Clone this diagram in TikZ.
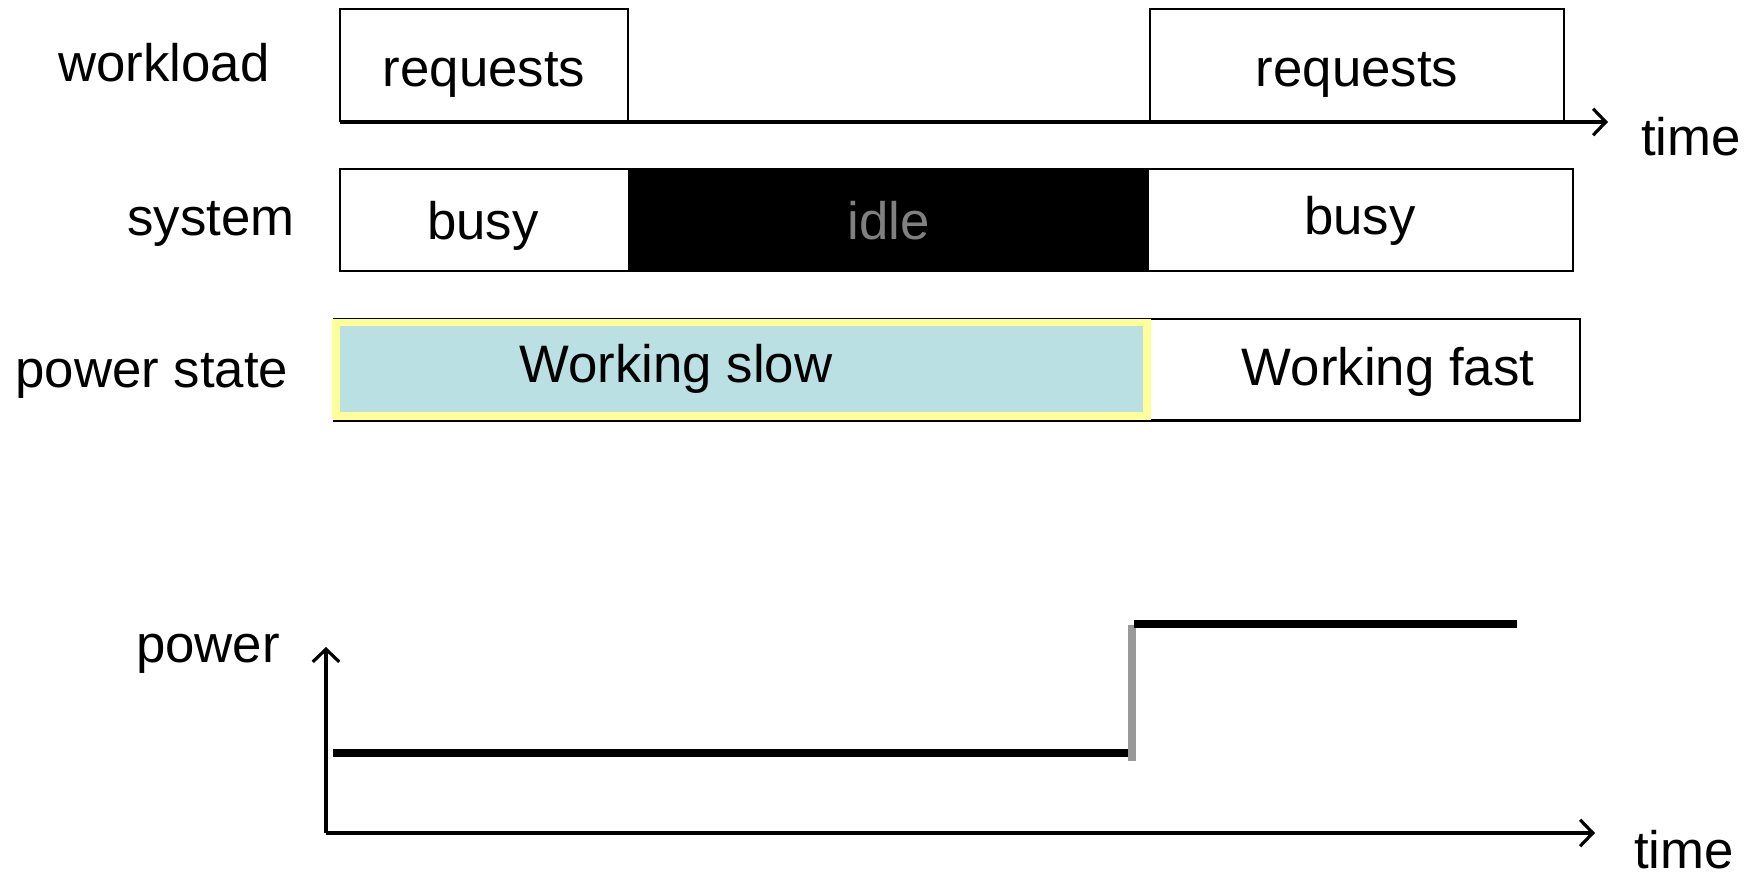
\documentclass[tikz,border=0pt]{standalone}
\usepackage{fontspec}
\setmainfont{Liberation Sans}
\usetikzlibrary{arrows.meta,fit}
\definecolor{slowfill}{HTML}{BBE0E3}
\definecolor{slowedge}{HTML}{FFFF99}
\definecolor{idletext}{HTML}{808080}
\definecolor{stepgray}{HTML}{999999}
\begin{document}
\begin{tikzpicture}[x=0.01cm,y=-0.01cm,
  txt/.style={font=\fontsize{15}{18}\selectfont,inner sep=0pt,anchor=base},
  box/.style={draw=black,line width=0.8pt,inner sep=0pt},
  axisline/.style={line width=0.9pt,-{Straight Barb[length=3.6pt,width=7.5pt]}},
  level/.style={line width=2.2pt},
  ]
\useasboundingbox (0,0) rectangle (1759,877);

% ---- workload row ----
\node[box,fit={(340,9) (628,121)}] (req1) {};
\node[box,fit={(1150,9) (1564,121)}] (req2) {};
\coordinate (t1start) at (340,122);
\coordinate (t1end) at (1608,122);
\draw[axisline] (t1start) -- (t1end);
\node[txt] (lwork) at (164,82) {workload};
\node[txt] (rq1) at (484,87) {requests};
\node[txt] (rq2) at (1357,87) {requests};
\node[txt] (time1) at (1691,156) {time};

% ---- system row ----
\node[box,fit={(340,169) (629,271)}] (busy1) {};
\node[box,fill=black,fit={(629,169) (1148,271)}] (idle) {};
\node[box,fit={(1148,169) (1573,271)}] (busy2) {};
\node[txt] (lsys) at (211,236) {system};
\node[txt] (tb1) at (483,240) {busy};
\node[txt,text=idletext] (tidle) at (889,240) {idle};
\node[txt] (tb2) at (1360,235) {busy};

% ---- power state row ----
\node[box,fit={(334,319) (1580,420.5)}] (fast) {};
\node[draw=slowedge,fill=slowfill,line width=2pt,inner sep=0pt,
      fit={(336,322.5) (1147,416)}] (slow) {};
\node[txt] (lps) at (152,388) {power state};
\node[txt] (tslow) at (676,383) {Working slow};
\node[txt] (tfast) at (1388,386) {Working fast};

% ---- power plot ----
\coordinate (origin) at (326,833);
\coordinate (ytop) at (326,647);
\coordinate (xend) at (1595,833);
\draw[axisline] (origin) -- (ytop);
\draw[axisline] (origin) -- (xend);
\node[txt] (lpow) at (208,663) {power};
\node[txt] (time2) at (1684,869) {time};

\coordinate (lowA) at (333,753);
\coordinate (lowB) at (1130,753);
\coordinate (stepA) at (1132,761);
\coordinate (stepB) at (1132,625);
\coordinate (highA) at (1134,624);
\coordinate (highB) at (1517,624);
\draw[level] (lowA) -- (lowB);
\draw[level,stepgray] (stepA) -- (stepB);
\draw[level] (highA) -- (highB);
\end{tikzpicture}
\end{document}
